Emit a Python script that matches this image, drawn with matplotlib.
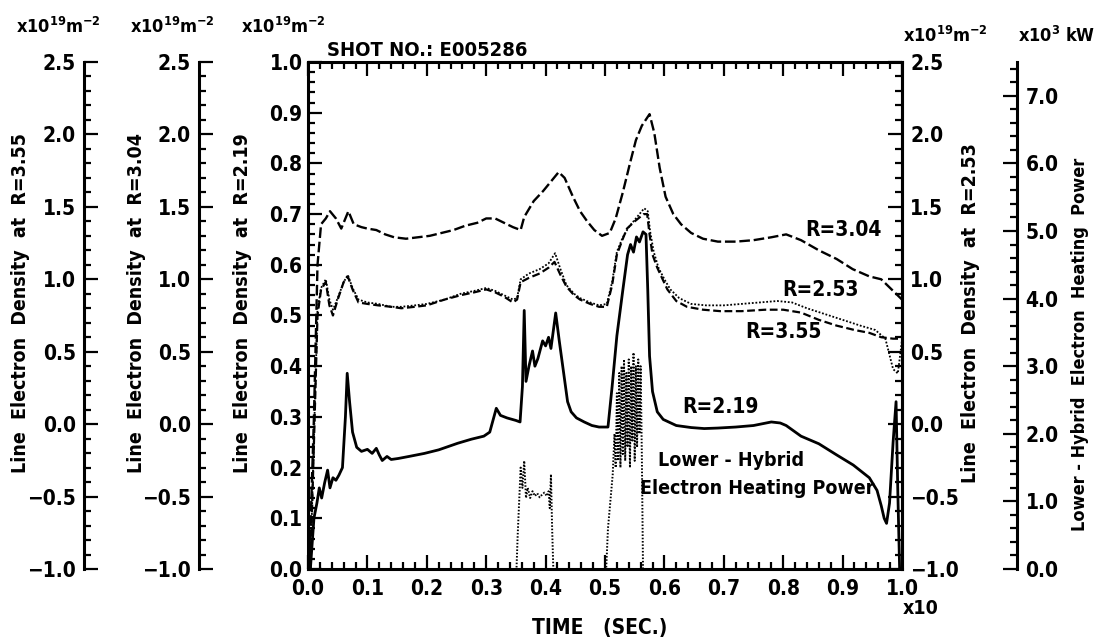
import matplotlib
matplotlib.use("Agg")
import matplotlib.pyplot as plt
from matplotlib import font_manager
from matplotlib.ticker import MultipleLocator, FuncFormatter

# time axis is in units of 10 s (the "x10" under the axis)
# R=3.04 line density, x10^19 m^-2 (inner left scale, -1.0 .. 2.5)
t_304 = [0.002, 0.010, 0.016, 0.022, 0.030, 0.037, 0.047, 0.056, 0.063, 0.068,
         0.077, 0.090, 0.100, 0.115, 0.130, 0.145, 0.165, 0.185, 0.205, 0.225,
         0.245, 0.265, 0.285, 0.300, 0.315, 0.330, 0.345, 0.358, 0.364, 0.380,
         0.396, 0.410, 0.422, 0.432, 0.446, 0.458, 0.470, 0.482, 0.495, 0.508,
         0.518, 0.530, 0.542, 0.552, 0.562, 0.575, 0.583, 0.592, 0.602, 0.615,
         0.628, 0.645, 0.665, 0.690, 0.720, 0.750, 0.780, 0.805, 0.830, 0.860,
         0.890, 0.917, 0.945, 0.965, 0.985, 1.000]
n_304 = [-1.00, 0.05, 1.10, 1.38, 1.42, 1.47, 1.42, 1.35, 1.42, 1.47,
         1.38, 1.36, 1.35, 1.34, 1.31, 1.29, 1.28, 1.29, 1.30, 1.32,
         1.34, 1.37, 1.39, 1.42, 1.42, 1.39, 1.36, 1.34, 1.43, 1.54,
         1.61, 1.68, 1.74, 1.70, 1.57, 1.47, 1.40, 1.34, 1.30, 1.32,
         1.42, 1.60, 1.80, 1.96, 2.06, 2.14, 2.01, 1.77, 1.57, 1.45,
         1.38, 1.32, 1.28, 1.26, 1.26, 1.27, 1.29, 1.31, 1.27, 1.20,
         1.14, 1.07, 1.02, 1.00, 0.92, 0.86]

# R=3.55 line density (outer left scale, -1.0 .. 2.5)
t_355 = [0.004, 0.010, 0.016, 0.022, 0.030, 0.036, 0.042, 0.050, 0.060, 0.067,
         0.075, 0.085, 0.100, 0.118, 0.140, 0.157, 0.180, 0.200, 0.230, 0.257,
         0.280, 0.300, 0.315, 0.330, 0.345, 0.352, 0.358, 0.372, 0.390, 0.405,
         0.415, 0.425, 0.435, 0.448, 0.458, 0.475, 0.490, 0.503, 0.512, 0.520,
         0.530, 0.537, 0.550, 0.565, 0.571, 0.575, 0.580, 0.588, 0.597, 0.605,
         0.620, 0.638, 0.665, 0.694, 0.730, 0.770, 0.800, 0.830, 0.860, 0.890,
         0.920, 0.945, 0.965, 0.985, 1.000]
n_355 = [-1.00, -0.13, 0.75, 0.93, 0.98, 0.82, 0.75, 0.86, 0.98, 1.02,
         0.93, 0.84, 0.83, 0.82, 0.81, 0.80, 0.81, 0.82, 0.86, 0.89,
         0.91, 0.93, 0.91, 0.88, 0.84, 0.86, 0.98, 1.01, 1.04, 1.08,
         1.12, 1.03, 0.95, 0.89, 0.86, 0.83, 0.81, 0.81, 0.96, 1.17,
         1.28, 1.35, 1.40, 1.45, 1.45, 1.31, 1.17, 1.08, 1.00, 0.93,
         0.85, 0.81, 0.79, 0.78, 0.78, 0.79, 0.79, 0.77, 0.72, 0.68,
         0.65, 0.63, 0.60, 0.59, 0.59]

# R=2.53 line density (right-hand scale, -1.0 .. 2.5)
t_253 = [0.004, 0.010, 0.016, 0.022, 0.030, 0.036, 0.042, 0.050, 0.060, 0.067,
         0.075, 0.085, 0.100, 0.118, 0.140, 0.157, 0.180, 0.200, 0.230, 0.257,
         0.280, 0.300, 0.315, 0.330, 0.345, 0.352, 0.358, 0.372, 0.390, 0.405,
         0.416, 0.425, 0.435, 0.448, 0.458, 0.475, 0.490, 0.503, 0.512, 0.520,
         0.530, 0.540, 0.552, 0.566, 0.572, 0.576, 0.582, 0.590, 0.600, 0.610,
         0.625, 0.645, 0.670, 0.700, 0.730, 0.760, 0.790, 0.815, 0.840, 0.870,
         0.900, 0.930, 0.955, 0.972, 0.985, 0.993, 1.000]
n_253 = [-1.00, -0.09, 0.79, 0.94, 1.00, 0.86, 0.79, 0.87, 0.98, 1.03,
         0.94, 0.86, 0.84, 0.83, 0.81, 0.81, 0.82, 0.83, 0.86, 0.90,
         0.92, 0.94, 0.92, 0.89, 0.86, 0.87, 1.00, 1.04, 1.07, 1.11,
         1.18, 1.07, 0.96, 0.90, 0.87, 0.84, 0.82, 0.83, 0.98, 1.19,
         1.29, 1.36, 1.42, 1.49, 1.47, 1.33, 1.19, 1.08, 1.00, 0.93,
         0.87, 0.83, 0.82, 0.82, 0.83, 0.84, 0.85, 0.84, 0.80, 0.76,
         0.72, 0.68, 0.65, 0.59, 0.38, 0.35, 0.58]

# R=2.19 line density (main scale, 0.0 .. 1.0)
t_219 = [0.004, 0.010, 0.015, 0.019, 0.023, 0.028, 0.033, 0.037, 0.042, 0.047,
         0.052, 0.058, 0.063, 0.066, 0.070, 0.075, 0.082, 0.090, 0.100, 0.108,
         0.115, 0.120, 0.125, 0.133, 0.140, 0.152, 0.170, 0.196, 0.220, 0.252,
         0.275, 0.296, 0.306, 0.317, 0.324, 0.335, 0.350, 0.357, 0.361, 0.364,
         0.367, 0.372, 0.378, 0.382, 0.387, 0.395, 0.400, 0.405, 0.409, 0.413,
         0.417, 0.423, 0.430, 0.437, 0.443, 0.452, 0.465, 0.478, 0.490, 0.505,
         0.512, 0.520, 0.530, 0.538, 0.543, 0.548, 0.553, 0.558, 0.564, 0.569,
         0.572, 0.575, 0.580, 0.588, 0.598, 0.620, 0.645, 0.667, 0.690, 0.720,
         0.750, 0.780, 0.795, 0.805, 0.830, 0.860, 0.890, 0.918, 0.945, 0.958,
         0.965, 0.970, 0.974, 0.979, 0.985, 0.990, 0.993, 0.996]
n_219 = [0.000, 0.100, 0.130, 0.160, 0.140, 0.170, 0.195, 0.160, 0.180, 0.175,
         0.185, 0.200, 0.300, 0.386, 0.330, 0.270, 0.240, 0.232, 0.236, 0.228,
         0.238, 0.225, 0.214, 0.222, 0.216, 0.218, 0.222, 0.228, 0.235, 0.248,
         0.256, 0.262, 0.270, 0.317, 0.303, 0.298, 0.293, 0.290, 0.360, 0.510,
         0.370, 0.400, 0.430, 0.400, 0.415, 0.450, 0.440, 0.457, 0.435, 0.470,
         0.505, 0.450, 0.390, 0.330, 0.310, 0.298, 0.290, 0.283, 0.280, 0.280,
         0.360, 0.460, 0.550, 0.620, 0.640, 0.625, 0.655, 0.645, 0.665, 0.660,
         0.550, 0.420, 0.350, 0.310, 0.295, 0.283, 0.279, 0.277, 0.278, 0.280,
         0.283, 0.290, 0.288, 0.283, 0.262, 0.247, 0.225, 0.205, 0.180, 0.155,
         0.125, 0.100, 0.090, 0.130, 0.250, 0.330, 0.150, 0.000]

# lower-hybrid heating power, x10^3 kW, two pulses
t_lh1 = [0.348, 0.351, 0.353, 0.356, 0.358, 0.361, 0.364, 0.367, 0.370, 0.374,
         0.378, 0.382, 0.386, 0.390, 0.394, 0.398, 0.402, 0.405, 0.407, 0.409,
         0.411, 0.413]
p_lh1 = [0.0, 0.0, 0.5, 1.1, 1.5, 1.2, 1.6, 1.05, 1.2, 1.05,
         1.15, 1.08, 1.12, 1.06, 1.10, 1.13, 1.08, 1.15, 0.9, 1.4,
         0.6, 0.0]
t_lh2 = [0.499, 0.502, 0.505, 0.509, 0.513, 0.516, 0.518, 0.520, 0.522, 0.524,
         0.526, 0.528, 0.530, 0.532, 0.534, 0.536, 0.538, 0.540, 0.542, 0.544,
         0.546, 0.548, 0.550, 0.552, 0.554, 0.556, 0.558, 0.560, 0.562, 0.564]
p_lh2 = [0.0, 0.0, 0.6, 1.0, 1.4, 2.0, 1.5, 2.6, 1.6, 2.9,
         1.5, 3.0, 1.7, 3.1, 1.6, 2.9, 1.8, 3.1, 1.5, 3.0,
         1.9, 3.2, 1.6, 3.0, 1.8, 3.1, 2.0, 3.0, 1.7, 0.0]


# heavy, narrow lettering; use the condensed DejaVu face when it is installed
fp = font_manager.FontProperties(family="DejaVu Sans", weight="bold",
                                 stretch="condensed")
condensed = "Condensed" in font_manager.findfont(fp)
plt.rcParams["font.family"] = ["DejaVu Sans"]
plt.rcParams["font.weight"] = "bold"
if condensed:
    plt.rcParams["font.stretch"] = "condensed"
TS = 1.0 if condensed else 0.9
plt.rcParams["mathtext.fontset"] = "custom"
plt.rcParams["mathtext.rm"] = "DejaVu Sans:bold"

W, H = 1099, 640
fig = plt.figure(figsize=(W / 100, H / 100), dpi=100)


def px(x, y):
    return x / W, 1 - y / H


minus_fmt = FuncFormatter(lambda v, p: f"{v:.1f}".replace("-", "\u2212"))
TICK_FS = 15 if condensed else 14
SPINE_W = 2.2

ax = fig.add_axes([308 / W, 1 - 569 / H, 594 / W, 507 / H])
ax.set_xlim(0, 1)
ax.set_ylim(0, 1)


def side_axis(side, pos, lo, hi, major, minor):
    a = ax.twinx()
    a.set_ylim(lo, hi)
    for s in a.spines.values():
        s.set_visible(False)
    a.spines[side].set_visible(True)
    a.spines[side].set_linewidth(SPINE_W)
    a.spines[side].set_position(("axes", pos))
    if side == "left":
        a.yaxis.set_ticks_position("left")
        a.yaxis.set_label_position("left")
    a.yaxis.set_major_locator(MultipleLocator(major))
    a.yaxis.set_minor_locator(MultipleLocator(minor))
    a.yaxis.set_major_formatter(minus_fmt)
    a.tick_params(axis="y", which="both", direction="in", width=1.6,
                  labelsize=TICK_FS, pad=6)
    a.tick_params(axis="y", which="major", length=10)
    a.tick_params(axis="y", which="minor", length=5)
    return a


ax355 = side_axis("left", -0.377, -1.0, 2.5, 0.5, 0.1)
ax304 = side_axis("left", -0.1835, -1.0, 2.5, 0.5, 0.1)
ax253 = side_axis("right", 1.0, -1.0, 2.5, 0.5, 0.1)
axlh = side_axis("right", 1.194, 0.0, 7.5, 1.0, 0.2)

# main frame
for s in ax.spines.values():
    s.set_linewidth(SPINE_W)
ax.xaxis.set_major_locator(MultipleLocator(0.1))
ax.xaxis.set_minor_locator(MultipleLocator(0.02))
ax.yaxis.set_major_locator(MultipleLocator(0.1))
ax.yaxis.set_minor_locator(MultipleLocator(0.02))
ax.xaxis.set_major_formatter(minus_fmt)
ax.yaxis.set_major_formatter(minus_fmt)
ax.tick_params(which="both", direction="in", top=True, right=False,
               width=1.6, labelsize=TICK_FS)
ax.tick_params(which="major", length=10)
ax.tick_params(which="minor", length=5)
ax.tick_params(axis="x", pad=7)
ax.tick_params(axis="y", pad=4)

# traces
ax304.plot(t_304, n_304, color="black", lw=1.7, dashes=(4.5, 1.6))
ax355.plot(t_355, n_355, color="black", lw=1.6, dashes=(3.5, 1.6))
ax253.plot(t_253, n_253, color="black", lw=1.3, dashes=(1.0, 1.0))
ax.plot(t_219, n_219, color="black", lw=2.0)
axlh.plot(t_lh1, p_lh1, color="black", lw=1.4, dashes=(0.8, 0.9))
axlh.plot(t_lh2, p_lh2, color="black", lw=1.4, dashes=(0.8, 0.9))

# units above each scale
unit = r"x10$^{19}$m$^{-2}$"
ufs = 13 * TS
fig.text(*px(58, 27), unit, ha="center", va="center", fontsize=ufs)
fig.text(*px(172, 27), unit, ha="center", va="center", fontsize=ufs)
fig.text(*px(283, 27), unit, ha="center", va="center", fontsize=ufs)
fig.text(*px(945, 36), unit, ha="center", va="center", fontsize=ufs)
fig.text(*px(1057, 36), r"x10$^{3}$ kW", ha="center", va="center", fontsize=ufs)

fig.text(*px(327, 50), "SHOT NO.: E005286", ha="left", va="center",
         fontsize=14.5 * TS)

# scale titles
lab = dict(rotation=90, ha="center", va="center", fontsize=14 * TS)
fig.text(*px(21, 303), "Line  Electron  Density  at  R=3.55", **lab)
fig.text(*px(137, 303), "Line  Electron  Density  at  R=3.04", **lab)
fig.text(*px(242, 303), "Line  Electron  Density  at  R=2.19", **lab)
fig.text(*px(971, 313), "Line  Electron  Density  at  R=2.53", **lab)
lab["fontsize"] = 13 * TS
fig.text(*px(1080, 344), "Lower - Hybrid  Electron  Heating  Power", **lab)

fig.text(*px(600, 628), "TIME   (SEC.)", ha="center", va="center",
         fontsize=15 * TS)
fig.text(*px(921, 608), "x10", ha="center", va="center", fontsize=14 * TS)

# curve labels
cl = dict(ha="center", va="center", fontsize=15 * TS)
fig.text(*px(843, 230), "R=3.04", **cl)
fig.text(*px(820, 290), "R=2.53", **cl)
fig.text(*px(783, 332), "R=3.55", **cl)
fig.text(*px(720, 407), "R=2.19", **cl)
cl["fontsize"] = 14 * TS
fig.text(*px(731, 460), "Lower - Hybrid", **cl)
fig.text(*px(757, 488), "Electron Heating Power", **cl)

fig.savefig("out.png", dpi=100, facecolor="white")
